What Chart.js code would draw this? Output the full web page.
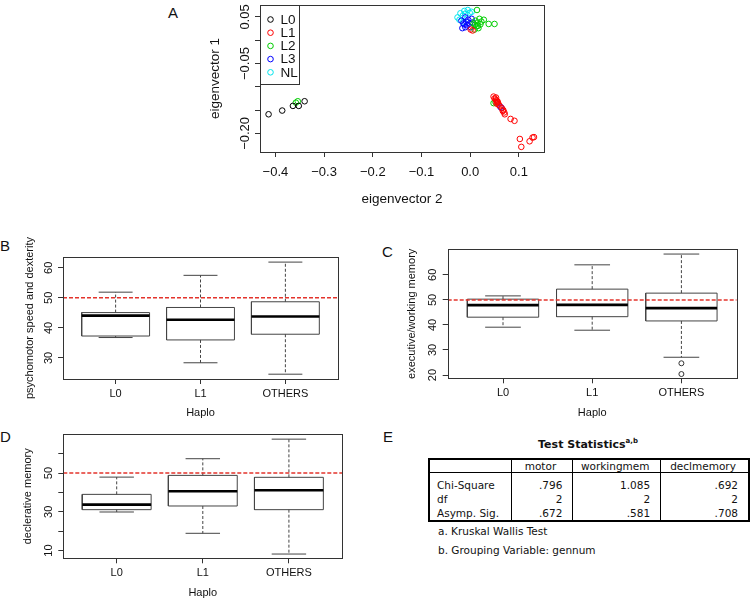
<!DOCTYPE html>
<html>
<head>
<meta charset="utf-8">
<script src="https://cdn.jsdelivr.net/npm/chart.js@4.4.0/dist/chart.umd.min.js"></script>
<style>
  body { margin: 0; width: 750px; height: 600px; position: relative; overflow: hidden; background: #fff;
         font-family: "Liberation Sans", Arial, sans-serif; color: #111; }
  canvas { position: absolute; }
  .letter { position: absolute; font-size: 15px; line-height: 15px; }
  #statTitle { position: absolute; left: 428px; width: 320px; top: 437px; text-align: center;
               font: bold 11px "DejaVu Sans", sans-serif; }
  #statTitle sup { font-size: 7px; }
  #statTable { position: absolute; left: 428px; top: 458px; border-collapse: collapse; border: 2px solid #000;
               font: 10.5px "DejaVu Sans", sans-serif; }
  #statTable td { border-left: 1px solid #000; padding: 0 10px 0 7px; height: 14px; line-height: 14px; white-space: nowrap; }
  #statTable tr.head td { border-bottom: 1.5px solid #000; text-align: center; height: 12px; line-height: 12px; }
  #statTable td.num { text-align: right; }
  #statTable tr.first td { padding-top: 5px; }
  .foot { position: absolute; left: 438px; font: 10.5px "DejaVu Sans", sans-serif; }
</style>
</head>
<body>
<div class="letter" style="left:168px;top:5px">A</div>
<div class="letter" style="left:0px;top:238px">B</div>
<div class="letter" style="left:382px;top:244px">C</div>
<div class="letter" style="left:0px;top:429px">D</div>
<div class="letter" style="left:383px;top:429px">E</div>

<canvas id="chartA" width="400" height="215" style="left:160px;top:0px"></canvas>
<canvas id="chartB" width="375" height="195" style="left:0px;top:225px"></canvas>
<canvas id="chartC" width="375" height="195" style="left:375px;top:225px"></canvas>
<canvas id="chartD" width="375" height="180" style="left:0px;top:420px"></canvas>

<div id="statTitle">Test Statistics<sup>a,b</sup></div>
<table id="statTable"></table>
<div class="foot" style="top:525px">a. Kruskal Wallis Test</div>
<div class="foot" style="top:544px">b. Grouping Variable: gennum</div>

<script>
  // ---------- panel A: eigenvector 2 (x) vs eigenvector 1 (y) ----------
  var groupNames = ['L0', 'L1', 'L2', 'L3', 'NL'];
  var groupColors = ['#000000', '#ff0000', '#00cd00', '#0000ff', '#00e5ee'];

  var L0x = [-0.414, -0.386, -0.364, -0.352, -0.340];
  var L0y = [-0.159, -0.151, -0.141, -0.141, -0.131];

  var L1x = [0.048, 0.050, 0.053, 0.054, 0.056, 0.054, 0.058, 0.060, 0.065, 0.068, 0.070, 0.071, 0.067,
             0.083, 0.091, 0.102, 0.105, 0.122, 0.128, 0.131, 0.052, 0.055, 0.057, 0.001, 0.005];
  var L1y = [-0.121, -0.125, -0.123, -0.129, -0.131, -0.136, -0.138, -0.140, -0.146, -0.150, -0.155, -0.159, -0.152,
             -0.169, -0.173, -0.212, -0.229, -0.217, -0.209, -0.208, -0.127, -0.133, -0.134, 0.023, 0.021];

  var L2x = [0.007, 0.011, 0.013, 0.015, 0.017, 0.019, 0.009, 0.021, 0.014, 0.028, 0.038, 0.050, 0.023,
             0.010, 0.016, -0.354, -0.358, 0.048, 0.052];
  var L2y = [0.036, 0.042, 0.030, 0.038, 0.026, 0.046, 0.023, 0.034, 0.065, 0.044, 0.035, 0.035, 0.040,
             0.033, 0.031, -0.131, -0.134, -0.135, -0.133];

  var L3x = [-0.018, -0.014, -0.010, -0.008, -0.006, -0.004, -0.001, 0.001, 0.003, -0.010, 0.005, -0.016, -0.012,
             0.062, 0.064];
  var L3y = [0.042, 0.036, 0.049, 0.040, 0.032, 0.044, 0.036, 0.028, 0.046, 0.028, 0.038, 0.026, 0.034,
             -0.143, -0.145];

  var NLx = [-0.026, -0.020, -0.012, -0.005, -0.015, -0.010, -0.001, -0.022, 0.003, -0.014];
  var NLy = [0.049, 0.058, 0.063, 0.065, 0.053, 0.057, 0.059, 0.044, 0.061, 0.040];

  var aXTicks = [-0.4, -0.3, -0.2, -0.1, 0.0, 0.1];
  var aXLabels = ['\u22120.4', '\u22120.3', '\u22120.2', '\u22120.1', '0.0', '0.1'];
  var aYTicks = [0.05, 0, -0.05, -0.10, -0.15, -0.20];
  var aYLabels = ['0.05', '', '\u22120.05', '', '', '\u22120.20'];

  // ---------- panels B-D: boxplots by haplogroup ----------
  var haplo = ['L0', 'L1', 'OTHERS'];
  var refLine = 50;

  var motorLow = [36.8, 28.4, 24.6];
  var motorQ1 = [37.3, 36.0, 37.9];
  var motorMed = [44.1, 42.7, 43.8];
  var motorQ3 = [45.1, 46.8, 48.7];
  var motorHigh = [51.9, 57.5, 61.9];
  var motorTicks = [30, 40, 50, 60];
  var motorLabels = ['30', '40', '50', '60'];

  var workLow = [39.1, 37.9, 27.1];
  var workQ1 = [43.1, 43.3, 41.6];
  var workMed = [47.9, 48.0, 46.7];
  var workQ3 = [50.3, 54.3, 52.7];
  var workHigh = [51.6, 64.0, 68.3];
  var workOutGroup = [3, 3];
  var workOutVal = [24.7, 20.4];
  var workTicks = [20, 30, 40, 50, 60];
  var workLabels = ['20', '30', '40', '50', '60'];

  var declLow = [29.9, 18.9, 8.2];
  var declQ1 = [31.1, 33.0, 31.1];
  var declMed = [33.7, 40.6, 41.1];
  var declQ3 = [39.0, 48.8, 47.8];
  var declHigh = [47.9, 57.4, 67.5];
  var declTicks = [10, 20, 30, 40, 50, 60];
  var declLabels = ['10', '', '30', '', '50', ''];

  // ---------- panel E: Kruskal Wallis table ----------
  var statCols = ['motor', 'workingmem', 'declmemory'];
  var statRows = ['Chi-Square', 'df', 'Asymp. Sig.'];
  var statChi = ['.796', '1.085', '.692'];
  var statDf = ['2', '2', '2'];
  var statSig = ['.672', '.581', '.708'];
  var statWidths = [81, 64, 87, 88];

  Chart.defaults.font.family = '"Liberation Sans", Arial, sans-serif';
  Chart.defaults.color = '#111';
  Chart.defaults.animation = false;
  Chart.defaults.events = [];
  Chart.defaults.plugins.legend.display = false;
  Chart.defaults.plugins.tooltip.enabled = false;

  // R style frame + rotated y tick labels
  var rFrame = {
    id: 'rFrame',
    afterDraw: function(chart, args, opts) {
      if (!opts || !opts.labels) return;
      var ctx = chart.ctx, a = chart.chartArea, y = chart.scales.y;
      ctx.save();
      ctx.strokeStyle = '#333';
      ctx.lineWidth = 1;
      ctx.strokeRect(Math.round(a.left) + 0.5, Math.round(a.top) + 0.5,
                     Math.round(a.right - a.left), Math.round(a.bottom - a.top));
      ctx.fillStyle = '#111';
      ctx.font = opts.size + 'px "Liberation Sans", Arial, sans-serif';
      ctx.textAlign = 'center';
      ctx.textBaseline = 'middle';
      y.ticks.forEach(function(t, i) {
        var lbl = opts.labels[i];
        if (!lbl) return;
        ctx.save();
        ctx.translate(opts.labelX, y.getPixelForValue(t.value));
        ctx.rotate(-Math.PI / 2);
        ctx.fillText(lbl, 0, 0);
        ctx.restore();
      });
      ctx.restore();
    }
  };
  Chart.register(rFrame);

  var gridOpts = { drawOnChartArea: false, drawTicks: true, tickLength: 5, color: '#333', lineWidth: 1 };

  function toPoints(xs, ys) {
    return xs.map(function(x, i) { return { x: x, y: ys[i] }; });
  }

  // ---- panel A ----
  var groupX = [L0x, L1x, L2x, L3x, NLx];
  var groupY = [L0y, L1y, L2y, L3y, NLy];
  var drawOrder = [1, 2, 3, 4, 5];

  var legendA = {
    id: 'legendA',
    afterDraw: function(chart) {
      var ctx = chart.ctx, a = chart.chartArea;
      var left = Math.round(a.left) + 0.5, top = Math.round(a.top) + 0.5;
      ctx.save();
      ctx.fillStyle = '#fff';
      ctx.fillRect(left, top, 39, 79);
      ctx.strokeStyle = '#333';
      ctx.strokeRect(left, top, 39, 79);
      ctx.font = '13.5px "Liberation Sans", Arial, sans-serif';
      ctx.textBaseline = 'middle';
      chart.data.datasets.forEach(function(d, i) {
        var cy = top + 14 + i * 13.2;
        ctx.beginPath();
        ctx.strokeStyle = d.borderColor;
        ctx.arc(left + 10, cy, 2.8, 0, Math.PI * 2);
        ctx.stroke();
        ctx.fillStyle = '#111';
        ctx.fillText(d.label, left + 20, cy + 0.5);
      });
      ctx.restore();
    }
  };

  new Chart(document.getElementById('chartA'), {
    type: 'scatter',
    data: {
      datasets: groupNames.map(function(g, i) {
        return {
          label: g,
          data: toPoints(groupX[i], groupY[i]),
          borderColor: groupColors[i],
          backgroundColor: 'rgba(0,0,0,0)',
          pointRadius: 2.8,
          pointBorderWidth: 1,
          order: drawOrder[i]
        };
      })
    },
    options: {
      responsive: false,
      layout: { padding: { left: 0, top: 1, right: 16, bottom: 8 } },
      scales: {
        x: {
          min: -0.4316, max: 0.1516,
          afterBuildTicks: function(s) { s.ticks = aXTicks.map(function(v) { return { value: v }; }); },
          afterFit: function(s) { s.height = 55; },
          ticks: { callback: function(v, i) { return aXLabels[i]; }, padding: 7.9, autoSkip: false, maxRotation: 0,
                   font: { size: 13 } },
          grid: gridOpts,
          border: { display: false },
          title: { display: true, text: 'eigenvector 2', font: { size: 13.5 }, padding: { top: 0, bottom: 0 } }
        },
        y: {
          min: -0.240, max: 0.0757,
          afterBuildTicks: function(s) { s.ticks = aYTicks.map(function(v) { return { value: v }; }); },
          afterFit: function(s) { s.width = 100; },
          ticks: { display: false },
          grid: gridOpts,
          border: { display: false },
          title: { display: true, text: 'eigenvector 1', font: { size: 13.5 }, padding: { top: 46.9, bottom: 0 } }
        }
      },
      plugins: { rFrame: { labels: aYLabels, labelX: 85, size: 13 } }
    },
    plugins: [legendA]
  });

  // ---- boxplot helpers ----
  var xLim = [0.38, 3.62];
  var boxHalf = 0.4, capHalf = 0.2;

  function seg(pts, color, width, dash) {
    return {
      data: pts.map(function(p) { return { x: p[0], y: p[1] }; }),
      showLine: true, borderColor: color, borderWidth: width, borderDash: dash || [],
      pointRadius: 0, fill: false
    };
  }

  function boxChart(id, s) {
    var ds = [];
    ds.push(seg([[xLim[0], refLine], [xLim[1], refLine]], '#e3342c', 1.5, [4, 2]));
    haplo.forEach(function(h, i) {
      var c = i + 1;
      ds.push(seg([[c - boxHalf, s.med[i]], [c + boxHalf, s.med[i]]], '#000', 2.6));
      ds.push(seg([[c - boxHalf, s.q1[i]], [c + boxHalf, s.q1[i]], [c + boxHalf, s.q3[i]],
                   [c - boxHalf, s.q3[i]], [c - boxHalf, s.q1[i]]], '#444', 1));
      ds.push(seg([[c, s.q3[i]], [c, s.hi[i]]], '#444', 1, [3, 2]));
      ds.push(seg([[c, s.q1[i]], [c, s.lo[i]]], '#444', 1, [3, 2]));
      ds.push(seg([[c - capHalf, s.hi[i]], [c + capHalf, s.hi[i]]], '#444', 1));
      ds.push(seg([[c - capHalf, s.lo[i]], [c + capHalf, s.lo[i]]], '#444', 1));
    });
    if (s.outG) {
      ds.push({
        data: toPoints(s.outG, s.outV),
        borderColor: '#333', backgroundColor: 'rgba(0,0,0,0)', pointRadius: 2.5, pointBorderWidth: 1
      });
    }
    new Chart(document.getElementById(id), {
      type: 'scatter',
      data: { datasets: ds },
      options: {
        responsive: false,
        layout: { padding: s.pad },
        scales: {
          x: {
            min: xLim[0], max: xLim[1],
            afterBuildTicks: function(sc) { sc.ticks = haplo.map(function(h, i) { return { value: i + 1 }; }); },
            afterFit: function(sc) { sc.height = s.xH; },
            ticks: { callback: function(v, i) { return haplo[i]; }, padding: s.xPad, autoSkip: false, maxRotation: 0,
                     font: { size: 11 } },
            grid: gridOpts,
            border: { display: false },
            title: { display: true, text: 'Haplo', font: { size: 11 }, padding: { top: 0, bottom: 0 } }
          },
          y: {
            min: s.range[0], max: s.range[1],
            afterBuildTicks: function(sc) { sc.ticks = s.ticks.map(function(v) { return { value: v }; }); },
            afterFit: function(sc) { sc.width = s.yW; },
            ticks: { display: false },
            grid: gridOpts,
            border: { display: false },
            title: { display: true, text: s.title, font: { size: 11 }, padding: { top: s.titlePad, bottom: 0 } }
          }
        },
        plugins: { rFrame: { labels: s.labels, labelX: s.labelX, size: 11 } }
      }
    });
  }

  boxChart('chartB', {
    lo: motorLow, q1: motorQ1, med: motorMed, q3: motorQ3, hi: motorHigh,
    range: [23.0, 63.6], ticks: motorTicks, labels: motorLabels,
    title: 'psychomotor speed and dexterity',
    pad: { left: 0, top: 32, right: 37, bottom: 0 }, xH: 41, xPad: 3.4, yW: 63, titlePad: 23.4, labelX: 49
  });

  boxChart('chartC', {
    lo: workLow, q1: workQ1, med: workMed, q3: workQ3, hi: workHigh, outG: workOutGroup, outV: workOutVal,
    range: [18.7, 70.2], ticks: workTicks, labels: workLabels,
    title: 'executive/working memory',
    pad: { left: 0, top: 24.3, right: 13.3, bottom: 0 }, xH: 41.7, xPad: 3.1, yW: 72.7, titlePad: 30.4, labelX: 58
  });

  boxChart('chartD', {
    lo: declLow, q1: declQ1, med: declMed, q3: declQ3, hi: declHigh,
    range: [6.0, 70.0], ticks: declTicks, labels: declLabels,
    title: 'declerative memory',
    pad: { left: 0, top: 14.3, right: 32.7, bottom: 0 }, xH: 41.7, xPad: 3.1, yW: 63.3, titlePad: 21.7, labelX: 49.3
  });

  // ---- panel E table ----
  var tbl = document.getElementById('statTable');
  var html = '<tr class="head"><td style="width:' + (statWidths[0] - 17) + 'px"></td>';
  statCols.forEach(function(c, i) {
    html += '<td style="width:' + (statWidths[i + 1] - 17) + 'px">' + c + '</td>';
  });
  html += '</tr>';
  [statChi, statDf, statSig].forEach(function(vals, r) {
    html += '<tr' + (r === 0 ? ' class="first"' : '') + '><td>' + statRows[r] + '</td>';
    vals.forEach(function(v) { html += '<td class="num">' + v + '</td>'; });
    html += '</tr>';
  });
  tbl.innerHTML = html;
</script>
</body>
</html>
